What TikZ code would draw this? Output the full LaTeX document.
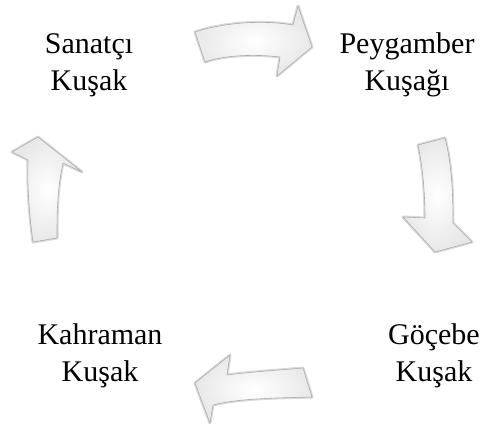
\documentclass[tikz,border=0pt]{standalone}
\usepackage{fontspec}
\setmainfont{Liberation Serif}
\usetikzlibrary{calc}

\tikzset{
  gen/.style={align=center, font=\fontsize{30}{37}\selectfont},
  blockedge/.style={draw=gray!30, line width=3pt, line join=round},
  blockarrow/.style={draw=gray!65, line width=0.6pt, line join=round,
    inner color=white, outer color=gray!18}
}

\begin{document}
\begin{tikzpicture}[x=1pt,y=-1pt]
  \useasboundingbox (0,0) rectangle (482,428);
  \node[gen] (sanatci) at (89,65) {Sanatçı\\Kuşak};
  \node[gen] (peygamber) at (407,65) {Peygamber\\Kuşağı};
  \node[gen] (kahraman) at (100,356) {Kahraman\\Kuşak};
  \node[gen] (gocebe) at (434,356) {Göçebe\\Kuşak};
  % top arrow
  \foreach \s in {blockedge,blockarrow}
    \path[\s] (195,32) .. controls (225,22) and (265,20) .. (293,25) -- (298,6)
      -- (312,47) -- (277,76) -- (280,57) .. controls (255,54) and (225,55) .. (205,62) -- cycle;
  % right arrow
  \foreach \s in {blockedge,blockarrow}
    \path[\s] (418,145) -- (445,138) .. controls (452,165) and (453,195) .. (453,223)
      -- (472,242) -- (435,252) -- (403,217) -- (425,218) .. controls (425,195) and (423,168) .. (418,145) -- cycle;
  % bottom arrow
  \foreach \s in {blockedge,blockarrow}
    \path[\s] (303,368) -- (312,397) .. controls (280,398) and (240,398) .. (213,405)
      -- (210,423) -- (195,383) -- (230,355) -- (227,375) .. controls (250,372) and (280,370) .. (303,368) -- cycle;
  % left arrow
  \foreach \s in {blockedge,blockarrow}
    \path[\s] (33,242) -- (57,238) .. controls (57,215) and (57,190) .. (63,163)
      -- (82,172) -- (38,137) -- (12,152) -- (28,160) .. controls (27,190) and (30,220) .. (33,242) -- cycle;
\end{tikzpicture}
\end{document}
